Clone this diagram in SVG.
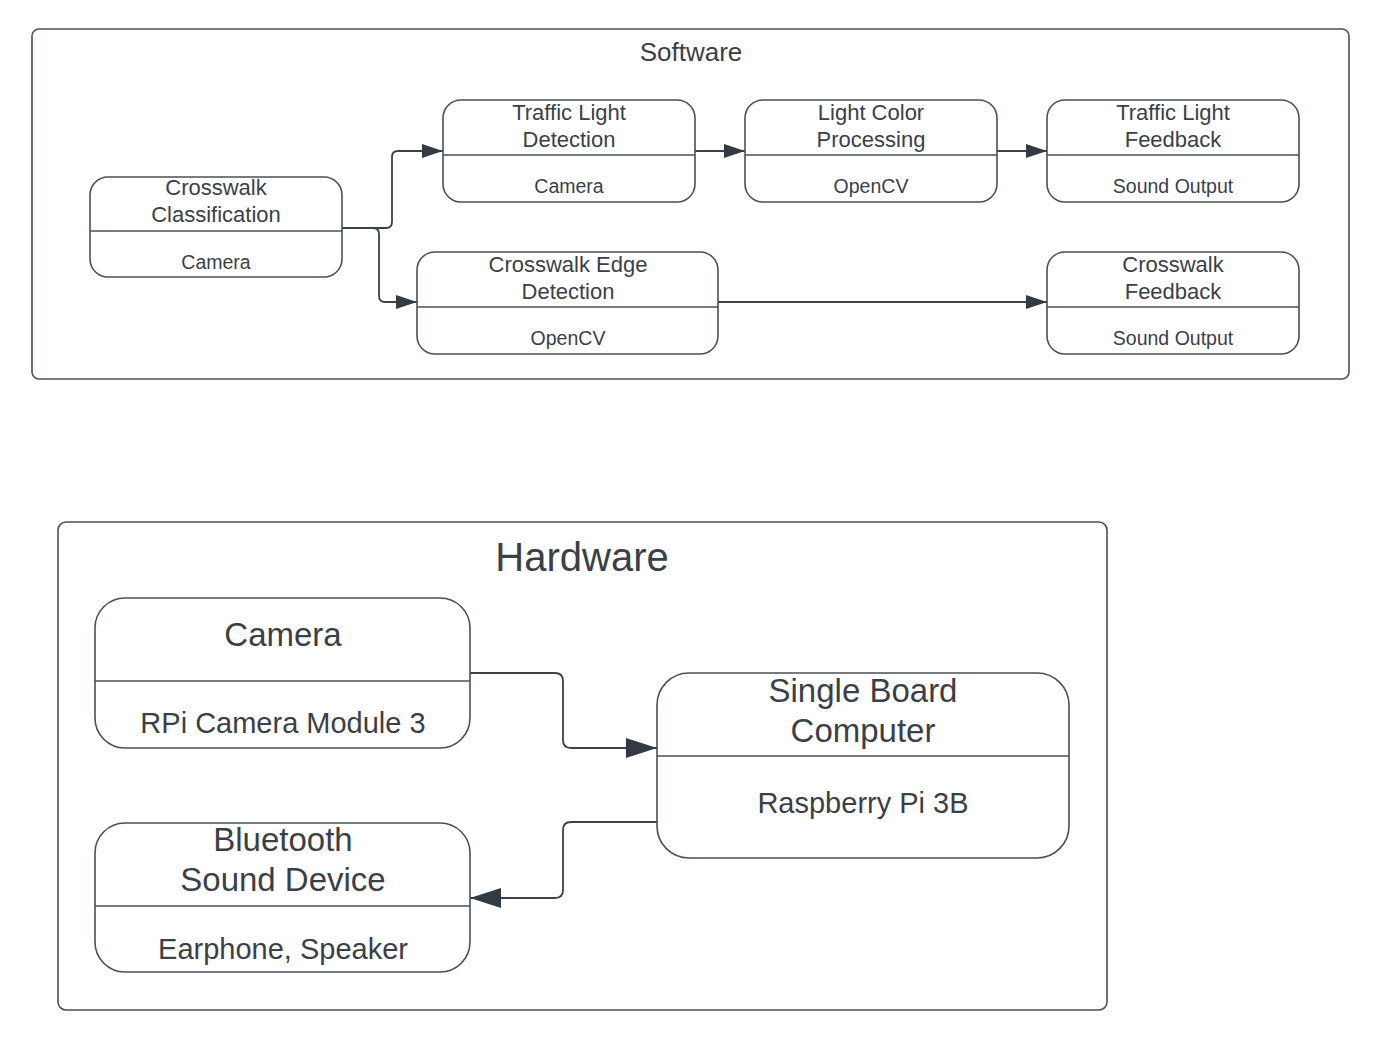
<svg xmlns="http://www.w3.org/2000/svg" width="1380" height="1046" viewBox="0 0 1380 1046">
<style>
text{font-family:"Liberation Sans",Arial,sans-serif;fill:#3a3f48;text-anchor:middle}
.box{fill:#fff;stroke:#4a505a;stroke-width:1.6}
.div{stroke:#4a505a;stroke-width:1.6}
.con{fill:none;stroke:#3b414b;stroke-width:1.8}
.t1{font-size:22px}
.t2{font-size:19.5px}
.h1{font-size:33px}
.h2{font-size:29px}
</style>
<defs>
<marker id="as" markerUnits="userSpaceOnUse" markerWidth="22" markerHeight="14" refX="21" refY="7" orient="auto"><path d="M0,0 L21,7 L0,14 Z" fill="#333a44"/></marker>
<marker id="ah" markerUnits="userSpaceOnUse" markerWidth="32" markerHeight="20" refX="31" refY="10" orient="auto"><path d="M0,0 L31,10 L0,20 Z" fill="#333a44"/></marker>
</defs>
<rect width="1380" height="1046" fill="#fff"/>
<g id="software">
<rect class="box" x="32" y="29" width="1317" height="350" rx="7"/>
<text x="691" y="61" style="font-size:26px">Software</text>
</g>
<g id="hardware">
<rect class="box" x="58" y="522" width="1049" height="488" rx="8"/>
<text x="582" y="571" style="font-size:40px">Hardware</text>
</g>
<g id="connectors">
<path class="con" d="M342,228 H386 Q392,228 392,222 V157 Q392,151 398,151 H443" marker-end="url(#as)"/>
<path class="con" d="M342,228 H373 Q379,228 379,234 V296 Q379,302 385,302 H417" marker-end="url(#as)"/>
<path class="con" d="M695,151 H745" marker-end="url(#as)"/>
<path class="con" d="M997,151 H1047" marker-end="url(#as)"/>
<path class="con" d="M718,302 H1047" marker-end="url(#as)"/>
<path class="con" d="M470,673 H555 Q563,673 563,681 V740 Q563,748 571,748 H657" marker-end="url(#ah)"/>
<path class="con" d="M657,822 H571 Q563,822 563,830 V890 Q563,898 555,898 H470" marker-end="url(#ah)"/>
</g>
<g id="crosswalk-classification">
<rect class="box" x="90" y="177" width="252" height="100" rx="18"/>
<line class="div" x1="90" y1="231" x2="342" y2="231"/>
<text class="t1" x="216" y="195">Crosswalk</text>
<text class="t1" x="216" y="222">Classification</text>
<text class="t2" x="216" y="269">Camera</text>
</g>
<g id="traffic-light-detection">
<rect class="box" x="443" y="100" width="252" height="102" rx="18"/>
<line class="div" x1="443" y1="155" x2="695" y2="155"/>
<text class="t1" x="569" y="120">Traffic Light</text>
<text class="t1" x="569" y="147">Detection</text>
<text class="t2" x="569" y="193">Camera</text>
</g>
<g id="light-color-processing">
<rect class="box" x="745" y="100" width="252" height="102" rx="18"/>
<line class="div" x1="745" y1="155" x2="997" y2="155"/>
<text class="t1" x="871" y="120">Light Color</text>
<text class="t1" x="871" y="147">Processing</text>
<text class="t2" x="871" y="193">OpenCV</text>
</g>
<g id="traffic-light-feedback">
<rect class="box" x="1047" y="100" width="252" height="102" rx="18"/>
<line class="div" x1="1047" y1="155" x2="1299" y2="155"/>
<text class="t1" x="1173" y="120">Traffic Light</text>
<text class="t1" x="1173" y="147">Feedback</text>
<text class="t2" x="1173" y="193">Sound Output</text>
</g>
<g id="crosswalk-edge-detection">
<rect class="box" x="417" y="252" width="301" height="102" rx="18"/>
<line class="div" x1="417" y1="307" x2="718" y2="307"/>
<text class="t1" x="568" y="272">Crosswalk Edge</text>
<text class="t1" x="568" y="299">Detection</text>
<text class="t2" x="568" y="345">OpenCV</text>
</g>
<g id="crosswalk-feedback">
<rect class="box" x="1047" y="252" width="252" height="102" rx="18"/>
<line class="div" x1="1047" y1="307" x2="1299" y2="307"/>
<text class="t1" x="1173" y="272">Crosswalk</text>
<text class="t1" x="1173" y="299">Feedback</text>
<text class="t2" x="1173" y="345">Sound Output</text>
</g>
<g id="camera">
<rect class="box" x="95" y="598" width="375" height="150" rx="30"/>
<line class="div" x1="95" y1="681" x2="470" y2="681"/>
<text class="h1" x="283" y="646">Camera</text>
<text class="h2" x="283" y="733">RPi Camera Module 3</text>
</g>
<g id="single-board-computer">
<rect class="box" x="657" y="673" width="412" height="185" rx="32"/>
<line class="div" x1="657" y1="756" x2="1069" y2="756"/>
<text class="h1" x="863" y="702">Single Board</text>
<text class="h1" x="863" y="742">Computer</text>
<text class="h2" x="863" y="813">Raspberry Pi 3B</text>
</g>
<g id="bluetooth-sound-device">
<rect class="box" x="95" y="823" width="375" height="149" rx="30"/>
<line class="div" x1="95" y1="906" x2="470" y2="906"/>
<text class="h1" x="283" y="851">Bluetooth</text>
<text class="h1" x="283" y="891">Sound Device</text>
<text class="h2" x="283" y="959">Earphone, Speaker</text>
</g>
</svg>
